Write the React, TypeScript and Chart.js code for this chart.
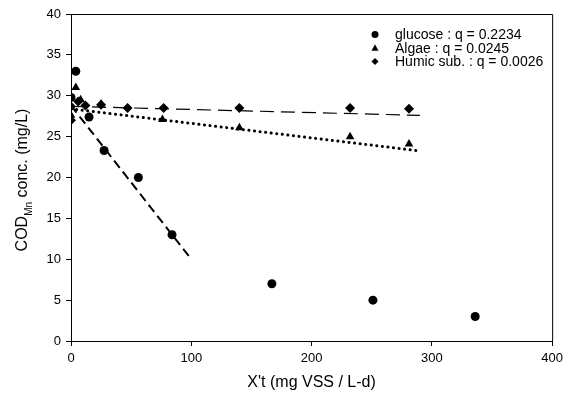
import React, { useEffect, useRef } from "react";
import { Chart, registerables } from "chart.js";

Chart.register(...registerables);

const FONT = "'Liberation Sans', Arial, sans-serif";

const glucoseX = [0, 4, 15, 27.5, 56, 84, 167, 251, 336];
const glucoseY = [29.8, 33, 27.4, 23.3, 20, 13, 7, 5, 3];
const algaeX = [0, 4, 8, 25, 76, 140, 232, 281];
const algaeY = [27.6, 31, 29.5, 29, 27.1, 26.1, 25, 24.1];
const humicX = [0, 0, 6, 12, 25, 47, 77, 140, 232, 281];
const humicY = [27, 28.7, 29.3, 28.8, 28.9, 28.5, 28.5, 28.5, 28.5, 28.4];

const glucoseFitX = [0, 100];
const glucoseFitY = [28.8, 10];
const algaeFitX = [0, 287];
const algaeFitY = [28.4, 23.3];
const humicFitX = [0, 290];
const humicFitY = [28.7, 27.6];

const legendLabels = ["glucose : q = 0.2234", "Algae : q = 0.0245", "Humic sub. : q = 0.0026"];
const legendStyles = ["circle", "triangle", "rectRot"];

const xTitle = "X't (mg VSS / L-d)";
const yTitleMain = "COD";
const yTitleSub = "Mn";
const yTitleRest = " conc. (mg/L)";

const pts = (xs: number[], ys: number[]) => xs.map((x, i) => ({ x, y: ys[i] }));

function drawMarker(ctx: CanvasRenderingContext2D, style: string, x: number, y: number, r: number) {
  ctx.beginPath();
  if (style === "circle") {
    ctx.arc(x, y, r, 0, Math.PI * 2);
  } else if (style === "triangle") {
    ctx.moveTo(x, y - r * 1.1);
    ctx.lineTo(x + r, y + r * 0.8);
    ctx.lineTo(x - r, y + r * 0.8);
    ctx.closePath();
  } else {
    ctx.moveTo(x, y - r);
    ctx.lineTo(x + r, y);
    ctx.lineTo(x, y + r);
    ctx.lineTo(x - r, y);
    ctx.closePath();
  }
  ctx.fill();
}

const framePlugin = {
  id: "frameAndLegend",
  afterDraw(chart: any) {
    const { ctx, chartArea } = chart;
    ctx.save();
    ctx.strokeStyle = "#000";
    ctx.lineWidth = 1;
    ctx.beginPath();
    ctx.moveTo(chartArea.left, chartArea.top + 0.5);
    ctx.lineTo(chartArea.right + 0.5, chartArea.top + 0.5);
    ctx.lineTo(chartArea.right + 0.5, chartArea.bottom);
    ctx.stroke();

    // legend
    const lx = 375;
    const tx = 395;
    const y0 = 34.5;
    const dy = 13.5;
    ctx.font = `14px ${FONT}`;
    ctx.textBaseline = "middle";
    ctx.textAlign = "left";
    ctx.fillStyle = "#000";
    legendLabels.forEach((label, i) => {
      const y = y0 + i * dy;
      drawMarker(ctx, legendStyles[i], lx, y, 3.5);
      ctx.fillText(label, tx, y + 1);
    });

    // y title with subscript
    ctx.save();
    ctx.translate(23, 180);
    ctx.rotate(-Math.PI / 2);
    ctx.fillStyle = "#000";
    ctx.textBaseline = "middle";
    ctx.textAlign = "left";
    const mainFont = `16px ${FONT}`;
    const subFont = `10px ${FONT}`;
    ctx.font = mainFont;
    const w1 = ctx.measureText(yTitleMain).width;
    const w3 = ctx.measureText(yTitleRest).width;
    ctx.font = subFont;
    const w2 = ctx.measureText(yTitleSub).width;
    const total = w1 + w2 + w3;
    let cx = -total / 2;
    ctx.font = mainFont;
    ctx.fillText(yTitleMain, cx, 0);
    cx += w1;
    ctx.font = subFont;
    ctx.fillText(yTitleSub, cx, 6);
    cx += w2;
    ctx.font = mainFont;
    ctx.fillText(yTitleRest, cx, 0);
    ctx.restore();

    ctx.restore();
  },
};

export default function App() {
  const ref = useRef<HTMLCanvasElement>(null);

  useEffect(() => {
    document.body.style.margin = "0";
    const canvas = ref.current;
    if (!canvas) return;
    const scatterBase = {
      type: "scatter" as const,
      showLine: false,
      backgroundColor: "#000",
      borderColor: "#000",
      borderWidth: 0,
    };
    const chart = new Chart(canvas, {
      type: "scatter",
      data: {
        datasets: [
          { ...scatterBase, label: "glucose", data: pts(glucoseX, glucoseY), pointStyle: "circle", pointRadius: 4.5 },
          { ...scatterBase, label: "Algae", data: pts(algaeX, algaeY), pointStyle: "triangle", pointRadius: 5 },
          { ...scatterBase, label: "Humic", data: pts(humicX, humicY), pointStyle: "rectRot", pointRadius: 5 },
          {
            type: "line" as const,
            label: "glucose fit",
            data: pts(glucoseFitX, glucoseFitY),
            borderColor: "#000",
            borderWidth: 2,
            borderDash: [9, 5],
            pointRadius: 0,
            fill: false,
          },
          {
            type: "line" as const,
            label: "algae fit",
            data: pts(algaeFitX, algaeFitY),
            borderColor: "#000",
            borderWidth: 3,
            borderDash: [0.1, 5.5],
            borderCapStyle: "round",
            pointRadius: 0,
            fill: false,
          },
          {
            type: "line" as const,
            label: "humic fit",
            data: pts(humicFitX, humicFitY),
            borderColor: "#000",
            borderWidth: 1.2,
            borderDash: [14, 7],
            pointRadius: 0,
            fill: false,
          },
        ] as any,
      },
      options: {
        animation: false,
        responsive: false,
        maintainAspectRatio: false,
        events: [],
        layout: { padding: { left: 0, right: 12, top: 14, bottom: 0 } },
        plugins: {
          legend: { display: false },
          tooltip: { enabled: false },
        },
        scales: {
          x: {
            type: "linear",
            min: 0,
            max: 400,
            ticks: {
              stepSize: 100,
              color: "#000",
              font: { family: FONT, size: 13 },
              padding: 5,
              maxRotation: 0,
            },
            grid: { drawOnChartArea: false, drawTicks: true, tickLength: 5, color: "#000" },
            border: { color: "#000", width: 1 },
            title: {
              display: true,
              text: xTitle,
              color: "#000",
              font: { family: FONT, size: 16 },
              padding: { top: 4, bottom: 4 },
            },
            afterFit(scale: any) {
              scale.height = 55;
            },
          },
          y: {
            type: "linear",
            min: 0,
            max: 40,
            ticks: {
              stepSize: 5,
              color: "#000",
              font: { family: FONT, size: 13 },
              padding: 5,
            },
            grid: { drawOnChartArea: false, drawTicks: true, tickLength: 5, color: "#000" },
            border: { color: "#000", width: 1 },
            afterFit(scale: any) {
              scale.width = 71;
            },
          },
        },
      },
      plugins: [framePlugin],
    });
    return () => chart.destroy();
  }, []);

  return (
    <div style={{ position: "absolute", left: 0, top: 0, width: 568, height: 396, background: "#fff" }}>
      <canvas ref={ref} width={568} height={396} style={{ display: "block", width: 568, height: 396 }} />
    </div>
  );
}
